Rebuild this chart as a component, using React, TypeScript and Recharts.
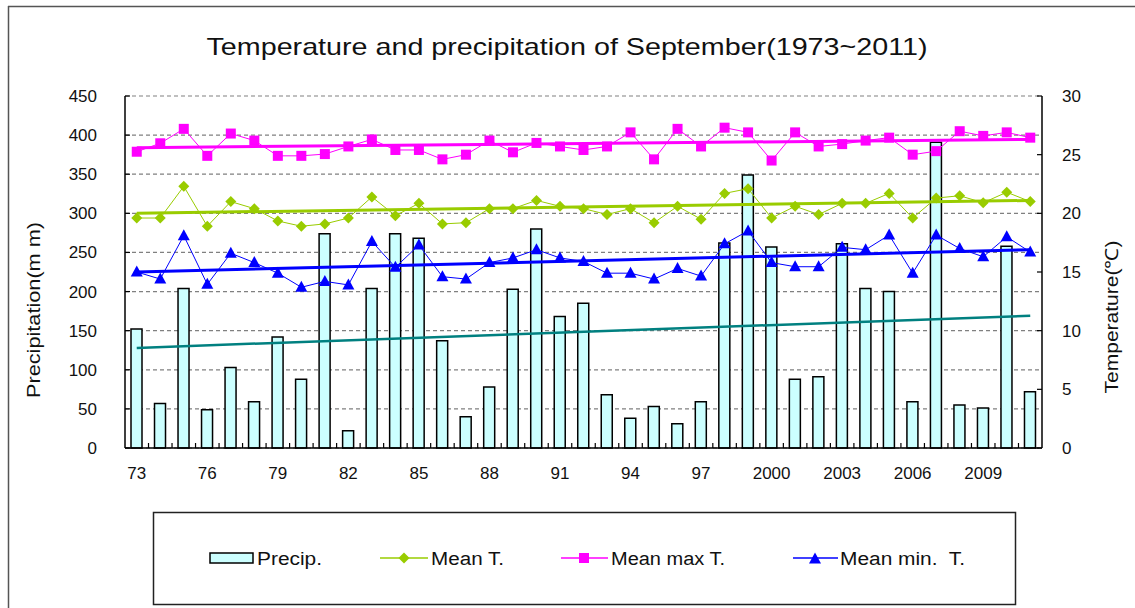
import React from 'react';
import { ComposedChart, Bar, Line, XAxis, YAxis, CartesianGrid } from 'recharts';

const YEARS = [
  1973, 1974, 1975, 1976, 1977, 1978, 1979, 1980, 1981, 1982, 1983, 1984, 1985,
  1986, 1987, 1988, 1989, 1990, 1991, 1992, 1993, 1994, 1995, 1996, 1997, 1998,
  1999, 2000, 2001, 2002, 2003, 2004, 2005, 2006, 2007, 2008, 2009, 2010, 2011,
];
const PRECIP = [
  152, 57, 204, 49, 103, 59, 142, 88, 274, 22, 204, 274, 268,
  137, 40, 78, 203, 280, 168, 185, 68, 38, 53, 31, 59, 262,
  349, 257, 88, 91, 261, 204, 200, 59, 391, 55, 51, 258, 72,
];
const MEAN_T = [
  19.6, 19.6, 22.3, 18.9, 21.0, 20.4, 19.35, 18.9, 19.1, 19.6, 21.4, 19.8, 20.85,
  19.1, 19.2, 20.4, 20.4, 21.1, 20.6, 20.4, 19.9, 20.4, 19.2, 20.6, 19.5, 21.7,
  22.1, 19.6, 20.6, 19.9, 20.85, 20.85, 21.7, 19.6, 21.3, 21.5, 20.9, 21.8, 21.0,
];
const MAX_T = [
  25.25, 25.97, 27.2, 24.9, 26.8, 26.2, 24.9, 24.9, 25.05, 25.7, 26.3, 25.4, 25.4,
  24.6, 25.0, 26.2, 25.2, 26.0, 25.7, 25.4, 25.7, 26.9, 24.6, 27.2, 25.7, 27.3,
  26.9, 24.5, 26.9, 25.7, 25.9, 26.2, 26.45, 25.0, 25.3, 27.0, 26.6, 26.9, 26.45,
];
const MIN_T = [
  15.0, 14.4, 18.1, 13.95, 16.6, 15.8, 14.9, 13.7, 14.2, 13.9, 17.6, 15.4, 17.3,
  14.6, 14.4, 15.8, 16.2, 16.9, 16.2, 15.9, 14.9, 14.9, 14.4, 15.3, 14.65, 17.4,
  18.5, 15.8, 15.45, 15.45, 17.1, 16.9, 18.15, 14.9, 18.15, 17.0, 16.3, 18.0, 16.7,
];
// trend line end values (first year, last year)
const PRECIP_TREND = [128, 169];
const MEAN_T_TREND = [20.0, 21.1];
const MAX_T_TREND = [25.6, 26.3];
const MIN_T_TREND = [15.0, 16.9];

const PRECIP_TICKS = [0, 50, 100, 150, 200, 250, 300, 350, 400, 450];
const TEMP_TICKS = [0, 5, 10, 15, 20, 25, 30];

const W = 1135;
const H = 608;
const PLOT_LEFT = 125;
const PLOT_RIGHT = 1042;
const BAND = (PLOT_RIGHT - PLOT_LEFT) / YEARS.length;
const FONT = '"Liberation Sans", Arial, sans-serif';

const C_BAR = '#ccffff';
const C_MEAN = '#99cc00';
const C_MAX = '#ff00ff';
const C_MIN = '#0000ff';
const C_PTREND = '#008080';

const last = YEARS.length - 1;
const ends = (arr: number[], i: number) => (i === 0 ? arr[0] : i === last ? arr[1] : null);

const data = YEARS.map((y, i) => ({
  year: y,
  precip: PRECIP[i],
  meanT: MEAN_T[i],
  maxT: MAX_T[i],
  minT: MIN_T[i],
  precipTrend: ends(PRECIP_TREND, i),
  meanTrend: ends(MEAN_T_TREND, i),
  maxTrend: ends(MAX_T_TREND, i),
  minTrend: ends(MIN_T_TREND, i),
}));

const yearLabel = (y: number) => (y < 2000 ? String(y).slice(2) : String(y));

const Diamond = ({ cx, cy, color }: any) =>
  cx == null ? null : (
    <polygon points={`${cx},${cy - 5.5} ${cx + 5.5},${cy} ${cx},${cy + 5.5} ${cx - 5.5},${cy}`} fill={color} />
  );
const Square = ({ cx, cy, color }: any) =>
  cx == null ? null : <rect x={cx - 5} y={cy - 5} width={10} height={10} fill={color} />;
const Triangle = ({ cx, cy, color }: any) =>
  cx == null ? null : (
    <polygon points={`${cx},${cy - 6.5} ${cx + 6},${cy + 4.5} ${cx - 6},${cy + 4.5}`} fill={color} />
  );

const LeftTick = (props: any) => {
  const { x, y, payload } = props;
  return (
    <g>
      <line x1={x + 28} x2={x + 33} y1={y} y2={y} stroke="#000" strokeWidth={1.2} />
      <text x={x} y={y} dy={6} textAnchor="end" fontSize={17} fontFamily={FONT} fill="#111">
        {payload.value}
      </text>
    </g>
  );
};

const RightTick = (props: any) => {
  const { x, y, payload } = props;
  return (
    <g>
      <line x1={x - 20} x2={x - 25} y1={y} y2={y} stroke="#000" strokeWidth={1.2} />
      <text x={x} y={y} dy={6} textAnchor="start" fontSize={17} fontFamily={FONT} fill="#111">
        {payload.value}
      </text>
    </g>
  );
};

const BottomTick = (props: any) => {
  const { x, y, payload, index } = props;
  return (
    <g>
      {index < last && (
        <line x1={x + BAND / 2} x2={x + BAND / 2} y1={y} y2={y - 5} stroke="#000" strokeWidth={1.2} />
      )}
      {index % 3 === 0 && (
        <text x={x} y={y + 31} textAnchor="middle" fontSize={17} fontFamily={FONT} fill="#111">
          {yearLabel(payload.value)}
        </text>
      )}
    </g>
  );
};

const Overlay = () => (
  <svg width={W} height={H} style={{ position: 'absolute', left: 0, top: 0, pointerEvents: 'none' }}>
    <line x1={8.5} y1={6} x2={8.5} y2={H} stroke="#555" strokeWidth={1.5} />
    <line x1={8} y1={6.5} x2={W} y2={6.5} stroke="#555" strokeWidth={1.5} />
    <text x={567} y={55} textAnchor="middle" fontSize={24} fontFamily={FONT} fill="#111"
      textLength={721} lengthAdjust="spacingAndGlyphs">
      Temperature and precipitation of September(1973~2011)
    </text>
    <text transform="translate(40,310) rotate(-90)" textAnchor="middle" fontSize={18} fontFamily={FONT}
      fill="#111" textLength={176} lengthAdjust="spacingAndGlyphs">
      Precipitation(m m)
    </text>
    <text transform="translate(1118,317) rotate(-90)" textAnchor="middle" fontSize={18} fontFamily={FONT}
      fill="#111" textLength={153} lengthAdjust="spacingAndGlyphs">
      Temperature(℃)
    </text>

    <rect x={153.5} y={512.5} width={862} height={92} fill="#fff" stroke="#222" strokeWidth={1.5} />
    <rect x={210} y={553} width={43} height={10} fill={C_BAR} stroke="#000" strokeWidth={1.5} />
    <text x={257} y={565} fontSize={18} fontFamily={FONT} fill="#111" textLength={65} lengthAdjust="spacingAndGlyphs">Precip.</text>

    <line x1={380} x2={428} y1={558} y2={558} stroke={C_MEAN} strokeWidth={1.5} />
    <Diamond cx={404} cy={558} color={C_MEAN} />
    <text x={431} y={565} fontSize={18} fontFamily={FONT} fill="#111" textLength={73} lengthAdjust="spacingAndGlyphs">Mean T.</text>

    <line x1={561} x2={608} y1={558} y2={558} stroke={C_MAX} strokeWidth={1.5} />
    <Square cx={584} cy={558} color={C_MAX} />
    <text x={611} y={565} fontSize={18} fontFamily={FONT} fill="#111" textLength={114} lengthAdjust="spacingAndGlyphs">Mean max T.</text>

    <line x1={793} x2={838} y1={558} y2={558} stroke={C_MIN} strokeWidth={1.5} />
    <Triangle cx={815} cy={559} color={C_MIN} />
    <text x={840} y={565} fontSize={18} fontFamily={FONT} fill="#111" textLength={125} lengthAdjust="spacingAndGlyphs" xmlSpace="preserve">Mean min.  T.</text>
  </svg>
);

export default function App() {
  return (
    <div style={{ position: 'absolute', left: 0, top: 0, width: W, height: H, background: '#fff', fontFamily: FONT }}>
      <ComposedChart
        width={W}
        height={H}
        data={data}
        margin={{ top: 96, right: W - PLOT_RIGHT - 50, left: PLOT_LEFT - 60, bottom: H - 448 - 30 }}
        barCategoryGap={0}
      >
        <CartesianGrid yAxisId="left" vertical={false} stroke="#808080" strokeDasharray="4 3" strokeWidth={1.2} />
        <XAxis dataKey="year" height={30} interval={0} tickSize={0} tickMargin={0} tick={<BottomTick />}
          axisLine={{ stroke: '#000', strokeWidth: 1.5 }} tickLine={false} />
        <YAxis yAxisId="left" width={60} domain={[0, 450]} ticks={PRECIP_TICKS} interval={0} tickSize={0}
          tickMargin={28} tick={<LeftTick />} tickLine={false} axisLine={{ stroke: '#000', strokeWidth: 1.5 }} />
        <YAxis yAxisId="right" orientation="right" width={50} domain={[0, 30]} ticks={TEMP_TICKS} interval={0}
          tickSize={0} tickMargin={20} tick={<RightTick />} tickLine={false} axisLine={{ stroke: '#000', strokeWidth: 1.5 }} />

        <Bar yAxisId="left" dataKey="precip" barSize={11} fill={C_BAR} stroke="#000" strokeWidth={1.5} isAnimationActive={false} />
        <Line yAxisId="left" dataKey="precipTrend" stroke={C_PTREND} strokeWidth={2.5} dot={false} connectNulls isAnimationActive={false} />

        <Line yAxisId="right" dataKey="meanT" stroke={C_MEAN} strokeWidth={1} dot={<Diamond color={C_MEAN} />} isAnimationActive={false} />
        <Line yAxisId="right" dataKey="maxT" stroke={C_MAX} strokeWidth={1} dot={<Square color={C_MAX} />} isAnimationActive={false} />
        <Line yAxisId="right" dataKey="minT" stroke={C_MIN} strokeWidth={1} dot={<Triangle color={C_MIN} />} isAnimationActive={false} />

        <Line yAxisId="right" dataKey="meanTrend" stroke={C_MEAN} strokeWidth={3} dot={false} connectNulls isAnimationActive={false} />
        <Line yAxisId="right" dataKey="maxTrend" stroke={C_MAX} strokeWidth={3} dot={false} connectNulls isAnimationActive={false} />
        <Line yAxisId="right" dataKey="minTrend" stroke={C_MIN} strokeWidth={3} dot={false} connectNulls isAnimationActive={false} />
      </ComposedChart>
      <Overlay />
    </div>
  );
}
